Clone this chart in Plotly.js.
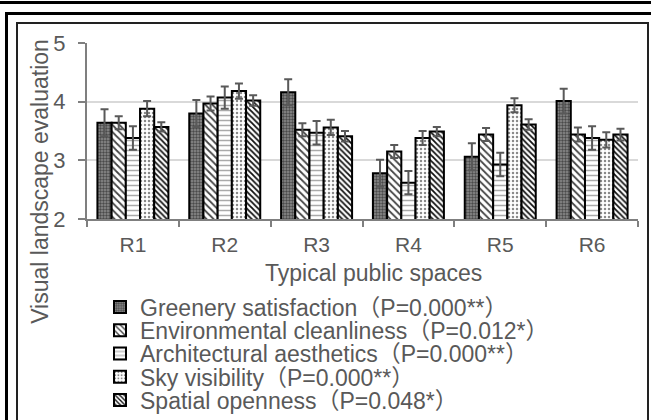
<!DOCTYPE html>
<html>
<head>
<meta charset="utf-8">
<script src="https://cdn.plot.ly/plotly-3.0.1.min.js"></script>
<style>
  html, body { margin:0; padding:0; background:#fff; }
  #wrap { position:relative; width:651px; height:420px; overflow:hidden; background:#fff; }
  #chart { position:absolute; left:0; top:0; width:651px; height:420px; }
  .ln { position:absolute; background:#000; }
</style>
</head>
<body>
<div id="wrap">
  <div class="ln" style="left:0; top:1px; width:651px; height:3px;"></div>
  <div class="ln" style="left:5px; top:12px; width:646px; height:3px;"></div>
  <div class="ln" style="left:5px; top:12px; width:3px; height:408px;"></div>
  <div class="ln" style="left:16px; top:22px; width:633px; height:2px; background:#222;"></div>
  <div class="ln" style="left:16px; top:22px; width:2px; height:398px; background:#222;"></div>
  <div class="ln" style="left:647px; top:22px; width:2px; height:398px; background:#222;"></div>
  <div id="chart"></div>
</div>
<script>
const categories = ['R1', 'R2', 'R3', 'R4', 'R5', 'R6'];
const seriesNames = [
  'Greenery satisfaction（P=0.000**）',
  'Environmental cleanliness（P=0.012*）',
  'Architectural aesthetics（P=0.000**）',
  'Sky visibility（P=0.000**）',
  'Spatial openness（P=0.048*）'
];
const greenery = [3.64, 3.80, 4.16, 2.78, 3.06, 4.01];
const greeneryErr = [0.23, 0.23, 0.22, 0.23, 0.23, 0.21];
const environment = [3.64, 3.97, 3.52, 3.15, 3.44, 3.44];
const environmentErr = [0.11, 0.12, 0.11, 0.11, 0.11, 0.12];
const architecture = [3.38, 4.07, 3.47, 2.62, 2.93, 3.38];
const architectureErr = [0.20, 0.19, 0.20, 0.20, 0.20, 0.20];
const sky = [3.88, 4.18, 3.56, 3.38, 3.94, 3.35];
const skyErr = [0.13, 0.13, 0.13, 0.12, 0.12, 0.13];
const spatial = [3.57, 4.02, 3.41, 3.49, 3.61, 3.44];
const spatialErr = [0.08, 0.09, 0.09, 0.08, 0.09, 0.10];
const yTicks = [2, 3, 4, 5];

const values = [greenery, environment, architecture, sky, spatial];
const errs = [greeneryErr, environmentErr, architectureErr, skyErr, spatialErr];
const patterns = [
  {shape: '.', bgcolor: '#8e8e8e', fgcolor: '#4a4a4a', size: 3, solidity: 0.5},
  {shape: '\\', bgcolor: '#ffffff', fgcolor: '#444444', size: 5, solidity: 0.35},
  {shape: '-', bgcolor: '#ffffff', fgcolor: '#aaaaaa', size: 5, solidity: 0.3},
  {shape: '.', bgcolor: '#ffffff', fgcolor: '#8a8a8a', size: 4, solidity: 0.3},
  {shape: '\\', bgcolor: '#ffffff', fgcolor: '#111111', size: 4, solidity: 0.45}
];
const legendIds = ['legend', 'legend2', 'legend3', 'legend4', 'legend5'];
const legendRowsPx = [307.7, 331, 354.3, 377.7, 401];

const FONT = 'Liberation Sans, Arial, Noto Sans CJK SC, sans-serif';
const TXT = '#595959';
const plotTop = 42.7, plotBottom = 219.3, plotLeft = 87, plotRight = 638;
const W = 651, H = 420;
const py = p => (plotBottom - p) / (plotBottom - plotTop);
const px = p => (p - plotLeft) / (plotRight - plotLeft);

const traces = values.map((v, i) => ({
  type: 'bar',
  name: seriesNames[i],
  x: categories,
  y: v,
  legend: legendIds[i],
  marker: {
    color: patterns[i].bgcolor,
    line: {color: '#000', width: 2},
    pattern: patterns[i]
  },
  error_y: {type: 'data', array: errs[i], visible: true, color: '#595959', thickness: 2, width: 4}
}));

const layout = {
  width: W, height: H,
  paper_bgcolor: 'rgba(0,0,0,0)',
  plot_bgcolor: 'rgba(0,0,0,0)',
  margin: {l: plotLeft, r: W - plotRight, t: plotTop, b: H - plotBottom, pad: 0, autoexpand: false},
  barmode: 'group',
  bargap: 0.227,
  bargroupgap: 0,
  font: {family: FONT, color: TXT},
  xaxis: {
    type: 'category',
    tickson: 'boundaries',
    ticks: 'outside', ticklen: 6, tickwidth: 2, tickcolor: '#7f7f7f',
    showline: true, linecolor: '#7f7f7f', linewidth: 2,
    showgrid: false,
    tickfont: {size: 21, color: TXT, family: FONT},
    ticklabelstandoff: 6,
    automargin: false,
    fixedrange: true
  },
  yaxis: {
    range: [2, 5],
    tickvals: yTicks,
    ticks: 'outside', ticklen: 7, tickwidth: 2, tickcolor: '#7f7f7f',
    showline: true, linecolor: '#7f7f7f', linewidth: 2,
    showgrid: true, gridcolor: '#d9d9d9', gridwidth: 2,
    zeroline: false,
    tickfont: {size: 22, color: TXT, family: FONT},
    ticklabelstandoff: 8,
    automargin: false,
    fixedrange: true
  },
  annotations: [
    {text: 'Typical public spaces', xref: 'paper', yref: 'paper', x: px(373), y: py(273),
     xanchor: 'center', yanchor: 'middle', showarrow: false, font: {size: 23, color: TXT, family: FONT}},
    {text: 'Visual landscape evaluation', xref: 'paper', yref: 'paper', x: px(40), y: py(182),
     xanchor: 'center', yanchor: 'middle', textangle: -90, showarrow: false, font: {size: 23, color: TXT, family: FONT}}
  ],
  showlegend: true
};
legendIds.forEach((id, i) => {
  layout[id] = {
    x: px(100), y: py(legendRowsPx[i]), xanchor: 'left', yanchor: 'middle',
    bgcolor: 'rgba(0,0,0,0)', borderwidth: 0,
    font: {size: 23, color: TXT, family: FONT},
    orientation: 'v', itemclick: false, itemdoubleclick: false
  };
});

Plotly.newPlot('chart', traces, layout, {displayModeBar: false, staticPlot: true});
</script>
</body>
</html>
